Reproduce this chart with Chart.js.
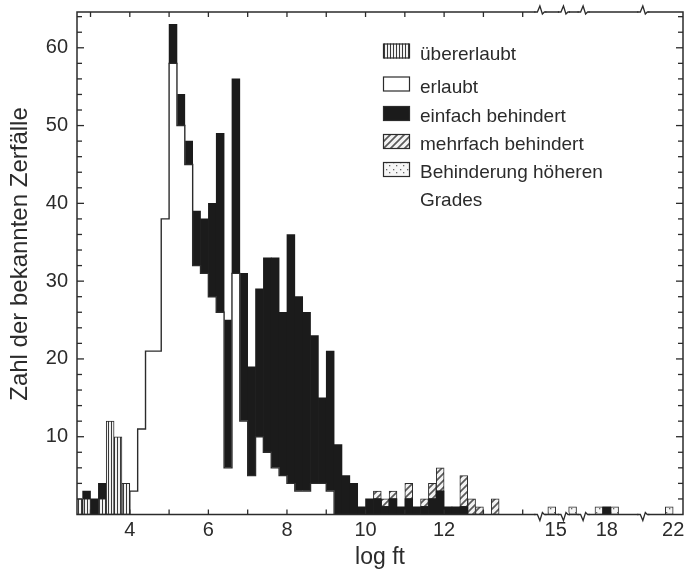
<!DOCTYPE html>
<html>
<head>
<meta charset="utf-8">
<script src="https://cdn.jsdelivr.net/npm/chart.js@4/dist/chart.umd.min.js"></script>
<style>
  html, body { margin: 0; padding: 0; background: #ffffff; }
  #c { display: block; }
</style>
</head>
<body>
<canvas id="c" width="691" height="574"></canvas>
<script>
// ---------------- DATA ----------------
// log ft bin centres (bin width 0.2)
const binWidth = 0.2;
const binCenters = [
  2.7, 2.9, 3.1, 3.3, 3.5, 3.7, 3.9, 4.1, 4.3, 4.5,
  4.7, 4.9, 5.1, 5.3, 5.5, 5.7, 5.9, 6.1, 6.3, 6.5,
  6.7, 6.9, 7.1, 7.3, 7.5, 7.7, 7.9, 8.1, 8.3, 8.5,
  8.7, 8.9, 9.1, 9.3, 9.5, 9.7, 9.9, 10.1, 10.3, 10.5,
  10.7, 10.9, 11.1, 11.3, 11.5, 11.7, 11.9, 12.1, 12.3, 12.5,
  12.7, 12.9, 13.1, 13.3, 14.9, 16.3, 17.8, 18.0, 18.2, 21.9
];
const uebererlaubt = [
  2, 2, 0, 2, 12, 10, 4, 0, 0, 0,
  0, 0, 0, 0, 0, 0, 0, 0, 0, 0,
  0, 0, 0, 0, 0, 0, 0, 0, 0, 0,
  0, 0, 0, 0, 0, 0, 0, 0, 0, 0,
  0, 0, 0, 0, 0, 0, 0, 0, 0, 0,
  0, 0, 0, 0, 0, 0, 0, 0, 0, 0
];
const erlaubt = [
  0, 0, 0, 0, 0, 0, 0, 3, 11, 21,
  21, 38, 58, 50, 45, 32, 31, 28, 26, 6,
  31, 12, 5, 10, 8, 6, 5, 4, 3, 3,
  4, 4, 3, 0, 0, 0, 0, 0, 0, 0,
  0, 0, 0, 0, 0, 0, 0, 0, 0, 0,
  0, 0, 0, 0, 0, 0, 0, 0, 0, 0
];
const einfachBehindert = [
  0, 1, 2, 2, 0, 0, 0, 0, 0, 0,
  0, 0, 5, 4, 3, 7, 7, 12, 23, 19,
  25, 19, 14, 19, 25, 27, 21, 32, 25, 23,
  19, 11, 18, 9, 5, 4, 1, 2, 2, 1,
  2, 1, 2, 1, 1, 2, 3, 1, 1, 1,
  0, 0, 0, 0, 0, 0, 0, 1, 0, 0
];
const mehrfachBehindert = [
  0, 0, 0, 0, 0, 0, 0, 0, 0, 0,
  0, 0, 0, 0, 0, 0, 0, 0, 0, 0,
  0, 0, 0, 0, 0, 0, 0, 0, 0, 0,
  0, 0, 0, 0, 0, 0, 0, 0, 1, 1,
  1, 0, 2, 0, 1, 2, 3, 0, 0, 4,
  2, 1, 0, 2, 0, 0, 0, 0, 0, 0
];
const hoehererGrad = [
  0, 0, 0, 0, 0, 0, 0, 0, 0, 0,
  0, 0, 0, 0, 0, 0, 0, 0, 0, 0,
  0, 0, 0, 0, 0, 0, 0, 0, 0, 0,
  0, 0, 0, 0, 0, 0, 0, 0, 0, 0,
  0, 0, 0, 0, 0, 0, 0, 0, 0, 0,
  0, 0, 0, 0, 1, 1, 1, 0, 1, 1
];
const seriesNames = ['übererlaubt', 'erlaubt', 'einfach behindert', 'mehrfach behindert', 'Behinderung höheren Grades'];
const xTickLabels = [4, 6, 8, 10, 12, 15, 18, 22];
const xTickMarks = [3, 4, 5, 6, 7, 8, 9, 10, 11, 12, 13, 14];
const yTickLabels = [10, 20, 30, 40, 50, 60];
const yAxisTitle = 'Zahl der bekannten Zerfälle';
const xAxisTitle = 'log ft';

// ---------------- LAYOUT / STYLE ----------------
const FONT = "'Liberation Sans', Arial, Helvetica, sans-serif";
const INK = '#2b2b2b';
// broken log ft axis: real range [from,to] drawn starting at axis position "at"
const axisSegments = [
  { from: 2.6,   to: 14.45, at: 2.6 },
  { from: 14.61, to: 15.21, at: 14.45 },
  { from: 16.08, to: 16.58, at: 15.05 },
  { from: 17.41, to: 18.93, at: 15.55 },
  { from: 21.24, to: 22.25, at: 17.07 }
];
const axisMin = 2.656, axisMax = 18.08;
const LEGEND = { x: 383, boxW: 27, boxH: 15, rowTops: [43.5, 76.5, 106, 134, 162], textX: 420, lineGap: 28, maxTextW: 200 };
const Y_TITLE = { x: 20, y: 254, size: 24 };

class BrokenLinearScale extends Chart.LinearScale {
  toAxis(v) {
    for (const s of axisSegments) {
      if (v < s.from) return s.at;
      if (v <= s.to) return s.at + (v - s.from);
    }
    const l = axisSegments[axisSegments.length - 1];
    return l.at + (v - l.from);
  }
  fromAxis(d) {
    let seg = axisSegments[0];
    for (const s of axisSegments) if (d >= s.at) seg = s;
    return seg.from + (d - seg.at);
  }
  getPixelForAxisPos(d) { return super.getPixelForValue(d); }
  getPixelForValue(v, index) {
    if (v === null || v === undefined) return NaN;
    return super.getPixelForValue(this.toAxis(v));
  }
  getValueForPixel(p) { return this.fromAxis(super.getValueForPixel(p)); }
}
BrokenLinearScale.id = 'brokenLinear';
BrokenLinearScale.defaults = Chart.LinearScale.defaults;
Chart.register(BrokenLinearScale);

function makePattern(w, h, draw) {
  const c = document.createElement('canvas');
  c.width = w; c.height = h;
  const g = c.getContext('2d');
  draw(g, w, h);
  return g.createPattern(c, 'repeat');
}
const vertHatch = makePattern(3, 3, (g, w, h) => {
  g.fillStyle = '#f2f2f2'; g.fillRect(0, 0, w, h);
  g.fillStyle = '#3a3a3a'; g.fillRect(0, 0, 1, h);
});
const diagHatch = makePattern(7, 7, (g, w, h) => {
  g.fillStyle = '#f3f3f3'; g.fillRect(0, 0, w, h);
  g.strokeStyle = '#5a5a5a'; g.lineWidth = 1.7;
  g.beginPath();
  g.moveTo(-1, h + 1); g.lineTo(w + 1, -1);
  g.moveTo(-1, 1); g.lineTo(1, -1);
  g.moveTo(w - 1, h + 1); g.lineTo(w + 1, h - 1);
  g.stroke();
});
const dotFill = makePattern(7, 7, (g, w, h) => {
  g.fillStyle = '#f6f6f6'; g.fillRect(0, 0, w, h);
  g.fillStyle = '#666';
  g.fillRect(1, 1, 1.3, 1.3);
  g.fillRect(4, 4, 1.3, 1.3);
});

function barSet(label, values, bg, borderW) {
  return {
    type: 'bar',
    label,
    data: binCenters.map((x, i) => ({ x, y: values[i] ? values[i] : null })),
    backgroundColor: bg,
    borderColor: INK,
    borderWidth: borderW,
    borderSkipped: false,
    barPercentage: 1,
    categoryPercentage: 1
  };
}

// outline of the "erlaubt" region (step line through the bin edges)
function envelopePoints() {
  const first = erlaubt.findIndex(v => v > 0);
  let last = first;
  erlaubt.forEach((v, i) => { if (v > 0) last = i; });
  const h = binWidth / 2;
  const pts = [{ x: binCenters[first] - h, y: 0 }];
  for (let i = first; i <= last; i++) pts.push({ x: binCenters[i] - h, y: erlaubt[i] + uebererlaubt[i] });
  pts.push({ x: binCenters[last] + h, y: 0 });
  return pts;
}

const datasets = [
  {
    type: 'line', label: 'erlaubt (Umriss)', data: envelopePoints(),
    borderColor: INK, borderWidth: 1.4, pointRadius: 0, stepped: true, fill: false, stack: 'outline'
  },
  barSet(seriesNames[0], uebererlaubt, vertHatch, 1),
  barSet(seriesNames[1], erlaubt, '#ffffff', 0),
  barSet(seriesNames[2], einfachBehindert, '#1b1b1b', 0),
  barSet(seriesNames[3], mehrfachBehindert, diagHatch, 1),
  barSet(seriesNames[4], hoehererGrad, dotFill, 1)
];

function wrapText(ctx, text, maxW) {
  const words = text.split(' ');
  const lines = [];
  let cur = '';
  for (const w of words) {
    const t = cur ? cur + ' ' + w : w;
    if (ctx.measureText(t).width > maxW && cur) { lines.push(cur); cur = w; } else cur = t;
  }
  if (cur) lines.push(cur);
  return lines;
}

const plotFrame = {
  id: 'plotFrame',
  afterDatasetsDraw(chart) {
    const { ctx, chartArea: a, scales: { x, y } } = chart;
    const seg = (x1, y1, x2, y2) => { ctx.beginPath(); ctx.moveTo(x1, y1); ctx.lineTo(x2, y2); ctx.stroke(); };
    ctx.save();
    ctx.strokeStyle = INK; ctx.lineWidth = 1.5;
    ctx.strokeRect(a.left, a.top, a.right - a.left, a.bottom - a.top);
    ctx.lineWidth = 1.3;
    for (let v = 2; v <= 64; v += 2) {
      const py = y.getPixelForValue(v);
      const len = v % 10 === 0 ? 7 : 5;
      seg(a.left, py, a.left + len, py);
      seg(a.right, py, a.right - len, py);
    }
    for (const v of xTickMarks) {
      const px = x.getPixelForValue(v);
      seg(px, a.bottom, px, a.bottom - 5);
      seg(px, a.top, px, a.top + 5);
    }
    // axis breaks
    for (let i = 1; i < axisSegments.length; i++) {
      const bx = x.getPixelForAxisPos(axisSegments[i].at);
      for (const [yy, dir] of [[a.bottom, 1], [a.top, -1]]) {
        ctx.fillStyle = '#ffffff';
        ctx.fillRect(bx - 5, yy - 2, 10, 4);
        ctx.lineWidth = 1.3;
        ctx.beginPath();
        ctx.moveTo(bx - 6, yy);
        ctx.lineTo(bx - 3, yy);
        ctx.lineTo(bx - 0.5, yy + 6 * dir);
        ctx.lineTo(bx + 2, yy - 2 * dir);
        ctx.lineTo(bx + 4, yy);
        ctx.lineTo(bx + 6, yy);
        ctx.stroke();
      }
    }
    ctx.restore();
  },
  afterDraw(chart) {
    const { ctx } = chart;
    const bars = chart.data.datasets.filter(d => d.type === 'bar');
    ctx.save();
    ctx.font = '19px ' + FONT;
    ctx.textBaseline = 'alphabetic';
    ctx.textAlign = 'left';
    bars.forEach((d, i) => {
      const top = LEGEND.rowTops[i];
      ctx.fillStyle = d.backgroundColor;
      ctx.fillRect(LEGEND.x, top, LEGEND.boxW, LEGEND.boxH);
      ctx.strokeStyle = INK; ctx.lineWidth = 1.2;
      ctx.strokeRect(LEGEND.x + 0.5, top + 0.5, LEGEND.boxW - 1, LEGEND.boxH - 1);
      ctx.fillStyle = INK;
      wrapText(ctx, d.label, LEGEND.maxTextW).forEach((t, k) => {
        ctx.fillText(t, LEGEND.textX, top + LEGEND.boxH + 1 + k * LEGEND.lineGap);
      });
    });
    // y axis title
    ctx.translate(Y_TITLE.x, Y_TITLE.y);
    ctx.rotate(-Math.PI / 2);
    ctx.font = Y_TITLE.size + 'px ' + FONT;
    ctx.textAlign = 'center';
    ctx.textBaseline = 'middle';
    ctx.fillStyle = INK;
    ctx.fillText(yAxisTitle, 0, 0);
    ctx.restore();
  }
};

new Chart(document.getElementById('c'), {
  type: 'bar',
  data: { datasets },
  options: {
    responsive: false,
    animation: false,
    devicePixelRatio: 1,
    events: [],
    layout: { padding: { left: 0, right: 8, top: 12, bottom: 0 } },
    plugins: { legend: { display: false }, tooltip: { enabled: false } },
    scales: {
      x: {
        type: 'brokenLinear',
        min: axisMin, max: axisMax,
        bounds: 'data', offset: false, stacked: true,
        grid: { display: false, drawTicks: false, offset: false },
        border: { display: false },
        afterBuildTicks: s => { s.ticks = xTickLabels.map(v => ({ value: v })); },
        afterFit: s => { s.height = 59.5; s.paddingLeft = 0; s.paddingRight = 0; },
        ticks: {
          autoSkip: false, maxRotation: 0, padding: 4, color: INK,
          font: { family: FONT, size: 20 },
          callback: v => String(v)
        },
        title: {
          display: true, text: xAxisTitle, color: INK,
          font: { family: FONT, size: 23 }, padding: { top: 0, bottom: 3 }
        }
      },
      y: {
        type: 'linear', min: 0, max: 64.6, stacked: true,
        grid: { display: false, drawTicks: false },
        border: { display: false },
        afterFit: s => { s.width = 77; s.paddingTop = 0; s.paddingBottom = 0; },
        ticks: {
          stepSize: 2, autoSkip: false, padding: 9, color: INK,
          font: { family: FONT, size: 20 },
          callback: v => (yTickLabels.includes(v) ? String(v) : '')
        },
        title: { display: false }
      }
    }
  },
  plugins: [plotFrame]
});
</script>
</body>
</html>
